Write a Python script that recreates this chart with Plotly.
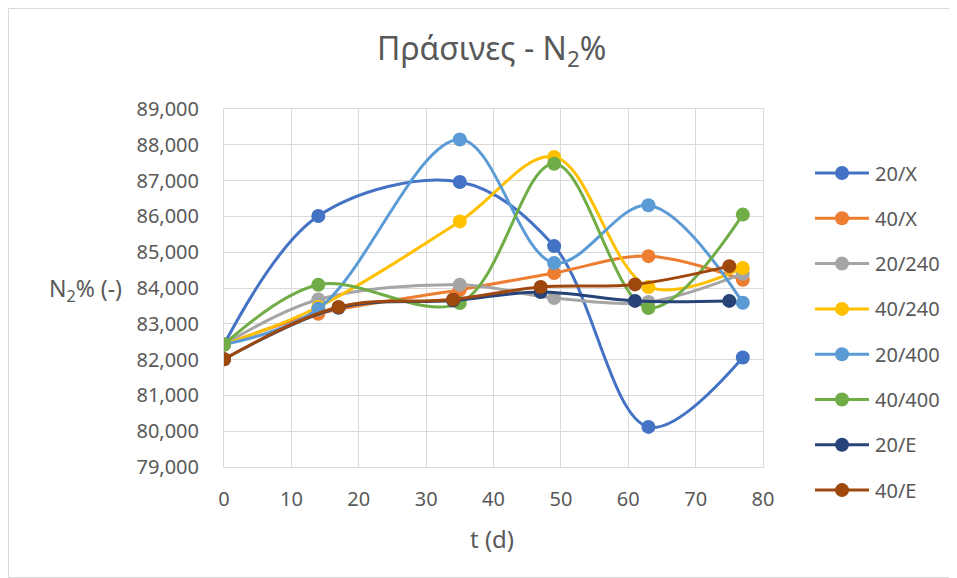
import plotly.graph_objects as go

series_names = ["20/X", "40/X", "20/240", "40/240", "20/400", "40/400", "20/E", "40/E"]
colors = ["#4472C4", "#ED7D31", "#A5A5A5", "#FFC000", "#5B9BD5", "#70AD47", "#264478", "#9E480E"]

t_main = [0, 14, 35, 49, 63, 77]
t_e = [0, 17, 34, 47, 61, 75]

n2_20X = [82420, 86010, 86960, 85170, 80120, 82060]
n2_40X = [82420, 83280, 83950, 84420, 84890, 84230]
n2_20_240 = [82420, 83680, 84090, 83720, 83610, 84400]
n2_40_240 = [82420, 83470, 85860, 87660, 84030, 84560]
n2_20_400 = [82420, 83420, 88150, 84700, 86310, 83590]
n2_40_400 = [82420, 84090, 83580, 87470, 83440, 86050]
n2_20E = [82010, 83450, 83650, 83890, 83640, 83640]
n2_40E = [82010, 83470, 83680, 84030, 84100, 84610]

x_data = [t_main, t_main, t_main, t_main, t_main, t_main, t_e, t_e]
y_data = [n2_20X, n2_40X, n2_20_240, n2_40_240, n2_20_400, n2_40_400, n2_20E, n2_40E]

x_ticks = [0, 10, 20, 30, 40, 50, 60, 70, 80]
y_ticks = [79000, 80000, 81000, 82000, 83000, 84000, 85000, 86000, 87000, 88000, 89000]

FONT = "Noto Sans, Liberation Sans, sans-serif"
TXT = "#595959"

# figure geometry (page body adds an 8px offset)
W, H = 949, 570
ML, MR, MT, MB = 216, 194, 101, 111
PW, PH = W - ML - MR, H - MT - MB
OFF = 8


def px_x(sx):
    return (sx - OFF - ML) / PW


def px_y(sy):
    return 1 - (sy - OFF - MT) / PH


fig = go.Figure()
for i, name in enumerate(series_names):
    fig.add_trace(go.Scatter(
        x=x_data[i], y=y_data[i], name=name, mode="lines+markers",
        line=dict(color=colors[i], width=3, shape="spline", smoothing=1.0),
        marker=dict(color=colors[i], size=14),
        showlegend=False,
    ))

fig.update_layout(
    width=W, height=H,
    paper_bgcolor="white", plot_bgcolor="white",
    margin=dict(l=ML, r=MR, t=MT, b=MB, autoexpand=False),
    font=dict(family=FONT, color=TXT, size=20),
    showlegend=False,
)
fig.update_xaxes(range=[0, 80], tickvals=x_ticks, showgrid=True, gridcolor="#D9D9D9", gridwidth=1,
                 showline=True, linecolor="#D9D9D9", mirror=True, zeroline=False,
                 ticks="", ticklabelstandoff=14, tickfont=dict(size=20, color=TXT))
fig.update_yaxes(range=[79000, 89000], tickvals=y_ticks, tickformat=",d", showgrid=True,
                 gridcolor="#D9D9D9", gridwidth=1, showline=True, linecolor="#D9D9D9", mirror=True,
                 zeroline=False, ticks="", ticklabelstandoff=20, tickfont=dict(size=20, color=TXT))

# title and axis titles
fig.add_annotation(text="Πράσινες - N<sub>2</sub>%", xref="paper", yref="paper",
                   x=px_x(491), y=px_y(50), xanchor="center", yanchor="middle", showarrow=False,
                   font=dict(size=32, color=TXT, family=FONT))
fig.add_annotation(text="t (d)", xref="paper", yref="paper", x=px_x(492), y=px_y(538),
                   xanchor="center", yanchor="middle", showarrow=False,
                   font=dict(size=24, color=TXT, family=FONT))
fig.add_annotation(text="N<sub>2</sub>% (-)", xref="paper", yref="paper", x=px_x(85), y=px_y(289),
                   xanchor="center", yanchor="middle", showarrow=False,
                   font=dict(size=23, color=TXT, family=FONT))

# legend drawn like the reference (long line with centered marker)
for i, name in enumerate(series_names):
    sy = 173 + i * 45.3
    fig.add_shape(type="line", xref="paper", yref="paper", x0=px_x(815), x1=px_x(869),
                  y0=px_y(sy), y1=px_y(sy), line=dict(color=colors[i], width=3))
    fig.add_shape(type="circle", xref="paper", yref="paper", xsizemode="pixel", ysizemode="pixel",
                  xanchor=px_x(842), yanchor=px_y(sy), x0=-7, x1=7, y0=-7, y1=7,
                  line=dict(color=colors[i], width=0), fillcolor=colors[i])
    fig.add_annotation(text=name, xref="paper", yref="paper", x=px_x(873), y=px_y(sy),
                       xanchor="left", yanchor="middle", showarrow=False,
                       font=dict(size=20, color=TXT, family=FONT))

# chart border
fig.add_shape(type="rect", xref="paper", yref="paper", x0=px_x(8.5), x1=px_x(956.5),
              y0=px_y(577.5), y1=px_y(8.5), line=dict(color="#D9D9D9", width=1),
              fillcolor="rgba(0,0,0,0)", layer="below")

fig.write_html("out.html")
